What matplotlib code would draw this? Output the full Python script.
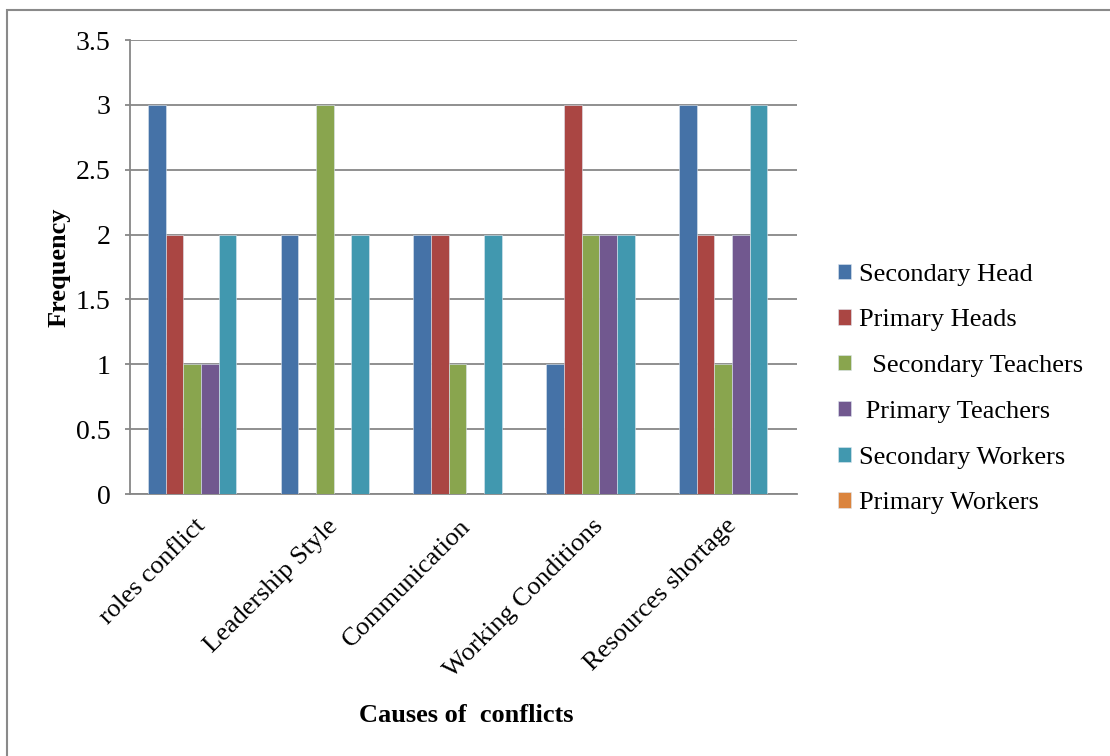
import matplotlib
matplotlib.use("Agg")
import matplotlib.pyplot as plt
import matplotlib.transforms as mtransforms
from matplotlib.patches import Rectangle
import numpy as np

plt.rcParams['font.family'] = ['Liberation Serif', 'DejaVu Serif']

categories = ["roles conflict", "Leadership Style", "Communication",
              "Working Conditions", "Resources shortage"]
series_names = ["Secondary Head", "Primary Heads", "  Secondary Teachers",
                " Primary Teachers", "Secondary Workers", "Primary Workers"]
secondary_head = [3, 2, 2, 1, 3]
primary_heads = [2, 0, 2, 3, 2]
secondary_teachers = [1, 3, 1, 2, 1]
primary_teachers = [1, 0, 0, 2, 2]
secondary_workers = [2, 2, 2, 2, 3]
primary_workers = [0, 0, 0, 0, 0]
colors = ["#4572A7", "#AA4643", "#89A54E", "#71588F", "#4198AF", "#DB843D"]

series = [secondary_head, primary_heads, secondary_teachers,
          primary_teachers, secondary_workers, primary_workers]

W, H = 1110, 756
fig = plt.figure(figsize=(W / 100, H / 100), dpi=100)
ax = fig.add_axes([130 / W, 1 - 494 / H, (797 - 130) / W, (494 - 40) / H])

n = len(series)
bar_w = 1.0 / (n + 1.5)
x = np.arange(len(categories))
for i, (vals, name, c) in enumerate(zip(series, series_names, colors)):
    offs = (i - (n - 1) / 2) * bar_w
    ax.bar(x + offs, vals, width=bar_w, color=c, label=name,
           edgecolor="#dde6f0", linewidth=0.4, zorder=3)

ax.set_ylim(0, 3.5)
ax.set_xlim(-0.535, len(categories) - 0.51)
ax.set_yticks(np.arange(0, 3.51, 0.5))
ax.set_yticklabels(["0", "0.5", "1", "1.5", "2", "2.5", "3", "3.5"])
ax.grid(axis='y', color="#878787", linewidth=1.3, zorder=0)
ax.set_axisbelow(True)
for s in ("top", "right"):
    ax.spines[s].set_visible(False)
for s in ("left", "bottom"):
    ax.spines[s].set_color("#878787")
    ax.spines[s].set_linewidth(1.3)
ax.tick_params(axis='y', length=3.6, width=1.3, color="#878787", labelsize=20, pad=10.5)
ax.tick_params(axis='x', length=0, labelsize=19, pad=13)
ax.set_xticks(x)
ax.set_xticklabels(categories, rotation=45, ha='right', va='top',
                   rotation_mode='anchor')
shift = mtransforms.ScaledTranslation(-7 / 100, -3 / 100, fig.dpi_scale_trans)
for lab in ax.get_xticklabels():
    lab.set_transform(lab.get_transform() + shift)

fig.text(59 / W, 1 - 267 / H, "Frequency", fontsize=19, fontweight='bold',
         rotation=90, ha='center', va='center')
fig.text(466 / W, 1 - 716 / H, "Causes of  conflicts", fontsize=19,
         fontweight='bold', ha='center', va='center')

leg = ax.legend(loc='center left', bbox_to_anchor=(814 / W, 1 - 389 / H),
                bbox_transform=fig.transFigure, frameon=False, fontsize=19,
                handlelength=0.5, handleheight=0.5, handletextpad=0.3,
                labelspacing=0.9)

fig.patches.append(Rectangle((7 / W, -0.05), 1.2, 1 - 10 / H + 0.05,
                             transform=fig.transFigure, fill=False,
                             edgecolor="#8a8a8a", linewidth=1.5))

fig.savefig("out.png", dpi=100, facecolor="white")
